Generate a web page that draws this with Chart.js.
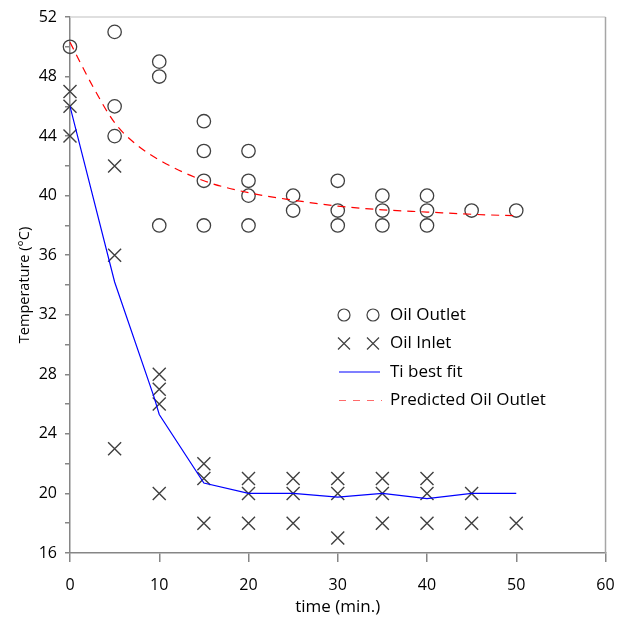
<!DOCTYPE html>
<html>
<head>
<meta charset="utf-8">
<script src="https://cdn.jsdelivr.net/npm/chart.js@4.4.1/dist/chart.umd.min.js"></script>
<style>
  html, body { margin: 0; padding: 0; background: #fff; }
  #wrap { width: 624px; height: 617px; }
</style>
</head>
<body>
<div id="wrap"><canvas id="grafTemp"></canvas></div>
<script>
// Datos
const outletTime = [0, 5, 5, 5, 10, 10, 10, 15, 15, 15, 15, 20, 20, 20, 20, 25, 25, 30, 30, 30, 35, 35, 35, 40, 40, 40, 45, 50];
const outletTemp = [50, 51, 46, 44, 49, 48, 38, 45, 43, 41, 38, 43, 41, 40, 38, 40, 39, 41, 39, 38, 40, 39, 38, 40, 39, 38, 39, 39];

const inletTime = [0, 0, 0, 5, 5, 5, 10, 10, 10, 10, 15, 15, 15, 20, 20, 20, 25, 25, 25, 30, 30, 30, 35, 35, 35, 40, 40, 40, 45, 45, 50];
const inletTemp = [47, 46, 44, 42, 36, 23, 28, 27, 26, 20, 22, 21, 18, 21, 20, 18, 21, 20, 18, 21, 20, 17, 21, 20, 18, 21, 20, 18, 20, 18, 18];

const fitTime = [0, 5, 9.4, 10, 15, 20, 25, 30, 35, 40, 45, 50];
const fitTemp = [46, 34.2, 26.5, 25.3, 20.7, 20, 20, 19.75, 20, 19.65, 20, 20];

const predTime = [0, 2.5, 5, 7.5, 10, 15, 20, 25, 30, 35, 40, 45, 50];
const predTemp = [50.3, 47.4, 44.9, 43.4, 42.4, 41, 40.2, 39.7, 39.3, 39.05, 38.9, 38.75, 38.65];

const labels = ['Oil Outlet', 'Oil Inlet', 'Ti best fit', 'Predicted Oil Outlet'];

const FONT = "'Open Sans', sans-serif";
const AXIS = '#868686';

function pares(xs, ys) {
        return xs.map((x, i) => ({ x: x, y: ys[i] }));
}

// Marco superior y derecho
const marco = {
        id: 'marco',
        beforeDatasetsDraw(chart) {
                const { ctx, chartArea: a } = chart;
                ctx.save();
                ctx.lineWidth = 1.5;
                ctx.strokeStyle = '#d4d4d4';
                ctx.beginPath();
                ctx.moveTo(a.left, a.top);
                ctx.lineTo(a.right, a.top);
                ctx.stroke();
                ctx.strokeStyle = '#a6a6a6';
                ctx.beginPath();
                ctx.moveTo(a.right, a.top);
                ctx.lineTo(a.right, a.bottom);
                ctx.stroke();
                ctx.restore();
        }
};

// Leyenda dentro del grafico
const leyenda = {
        id: 'leyenda',
        afterDraw(chart) {
                const ctx = chart.ctx;
                const x0 = 339, tx = 390, y0 = 315, dy = 28.5;
                ctx.save();
                ctx.font = '17px ' + FONT;
                ctx.fillStyle = '#000';
                ctx.textBaseline = 'middle';
                labels.forEach((t, i) => ctx.fillText(t, tx, y0 + i * dy));
                ctx.strokeStyle = '#404040';
                ctx.lineWidth = 1.2;
                // circulos
                [344, 373].forEach(cx => {
                        ctx.beginPath();
                        ctx.arc(cx, y0, 6, 0, Math.PI * 2);
                        ctx.stroke();
                });
                // cruces
                [344, 373].forEach(cx => {
                        const y = y0 + dy, r = 6;
                        ctx.beginPath();
                        ctx.moveTo(cx - r, y - r); ctx.lineTo(cx + r, y + r);
                        ctx.moveTo(cx - r, y + r); ctx.lineTo(cx + r, y - r);
                        ctx.stroke();
                });
                ctx.strokeStyle = '#0000ff';
                ctx.beginPath();
                ctx.moveTo(x0, y0 + 2 * dy); ctx.lineTo(380, y0 + 2 * dy);
                ctx.stroke();
                ctx.strokeStyle = '#ff6a6a';
                ctx.setLineDash([7, 7]);
                ctx.beginPath();
                ctx.moveTo(x0, y0 + 3 * dy); ctx.lineTo(382, y0 + 3 * dy);
                ctx.stroke();
                ctx.restore();
        }
};

const ctx = document.querySelector('#grafTemp');

new Chart(ctx, {
        type: 'scatter',
        data: {
                datasets: [
                        {
                                label: labels[0],
                                data: pares(outletTime, outletTemp),
                                pointStyle: 'circle',
                                pointRadius: 6.7,
                                pointBorderWidth: 1.3,
                                pointBorderColor: '#404040',
                                pointBackgroundColor: 'rgba(0,0,0,0)',
                                showLine: false,
                                clip: false,
                                order: 2
                        },
                        {
                                label: labels[1],
                                data: pares(inletTime, inletTemp),
                                pointStyle: 'crossRot',
                                pointRadius: 9.2,
                                pointBorderWidth: 1.4,
                                pointBorderColor: '#404040',
                                showLine: false,
                                clip: false,
                                order: 2
                        },
                        {
                                label: labels[2],
                                data: pares(fitTime, fitTemp),
                                showLine: true,
                                borderColor: '#0000ff',
                                borderWidth: 1.2,
                                pointRadius: 0,
                                tension: 0,
                                order: 1
                        },
                        {
                                label: labels[3],
                                data: pares(predTime, predTemp),
                                showLine: true,
                                borderColor: '#ff0000',
                                borderWidth: 1.2,
                                borderDash: [8, 6],
                                pointRadius: 0,
                                cubicInterpolationMode: 'monotone',
                                clip: false,
                                order: 1
                        }
                ]
        },
        options: {
                responsive: true,
                maintainAspectRatio: false,
                animation: false,
                events: [],
                layout: { padding: { left: 0, right: 18.5, top: 17, bottom: 0 } },
                plugins: {
                        legend: { display: false },
                        tooltip: { enabled: false }
                },
                scales: {
                        x: {
                                type: 'linear',
                                min: 0,
                                max: 60,
                                afterFit: s => { s.height = 64; s.paddingLeft = 0; s.paddingRight = 0; },
                                border: { color: AXIS, width: 1.5 },
                                grid: { drawOnChartArea: false, color: AXIS, tickLength: 9, lineWidth: 1.5 },
                                ticks: { stepSize: 10, color: '#000', padding: 14, maxRotation: 0, font: { family: FONT, size: 16 } },
                                title: { display: true, text: 'time (min.)', color: '#000', padding: { top: 0, bottom: 0 }, font: { family: FONT, size: 17 } }
                        },
                        y: {
                                min: 16,
                                max: 52,
                                afterFit: s => { s.width = 70; s.paddingTop = 0; s.paddingBottom = 0; },
                                border: { color: AXIS, width: 1.5 },
                                grid: { drawOnChartArea: false, color: AXIS, tickLength: 5, lineWidth: 1.5 },
                                ticks: {
                                        stepSize: 2,
                                        color: '#000',
                                        padding: 8,
                                        autoSkip: false,
                                        font: { family: FONT, size: 16 },
                                        callback: v => (v % 4 === 0 ? v : '')
                                },
                                title: { display: true, text: 'Temperature (°C)', color: '#000', padding: { top: 16, bottom: 0 }, font: { family: FONT, size: 14.5 } }
                        }
                }
        },
        plugins: [marco, leyenda]
});
</script>
</body>
</html>
